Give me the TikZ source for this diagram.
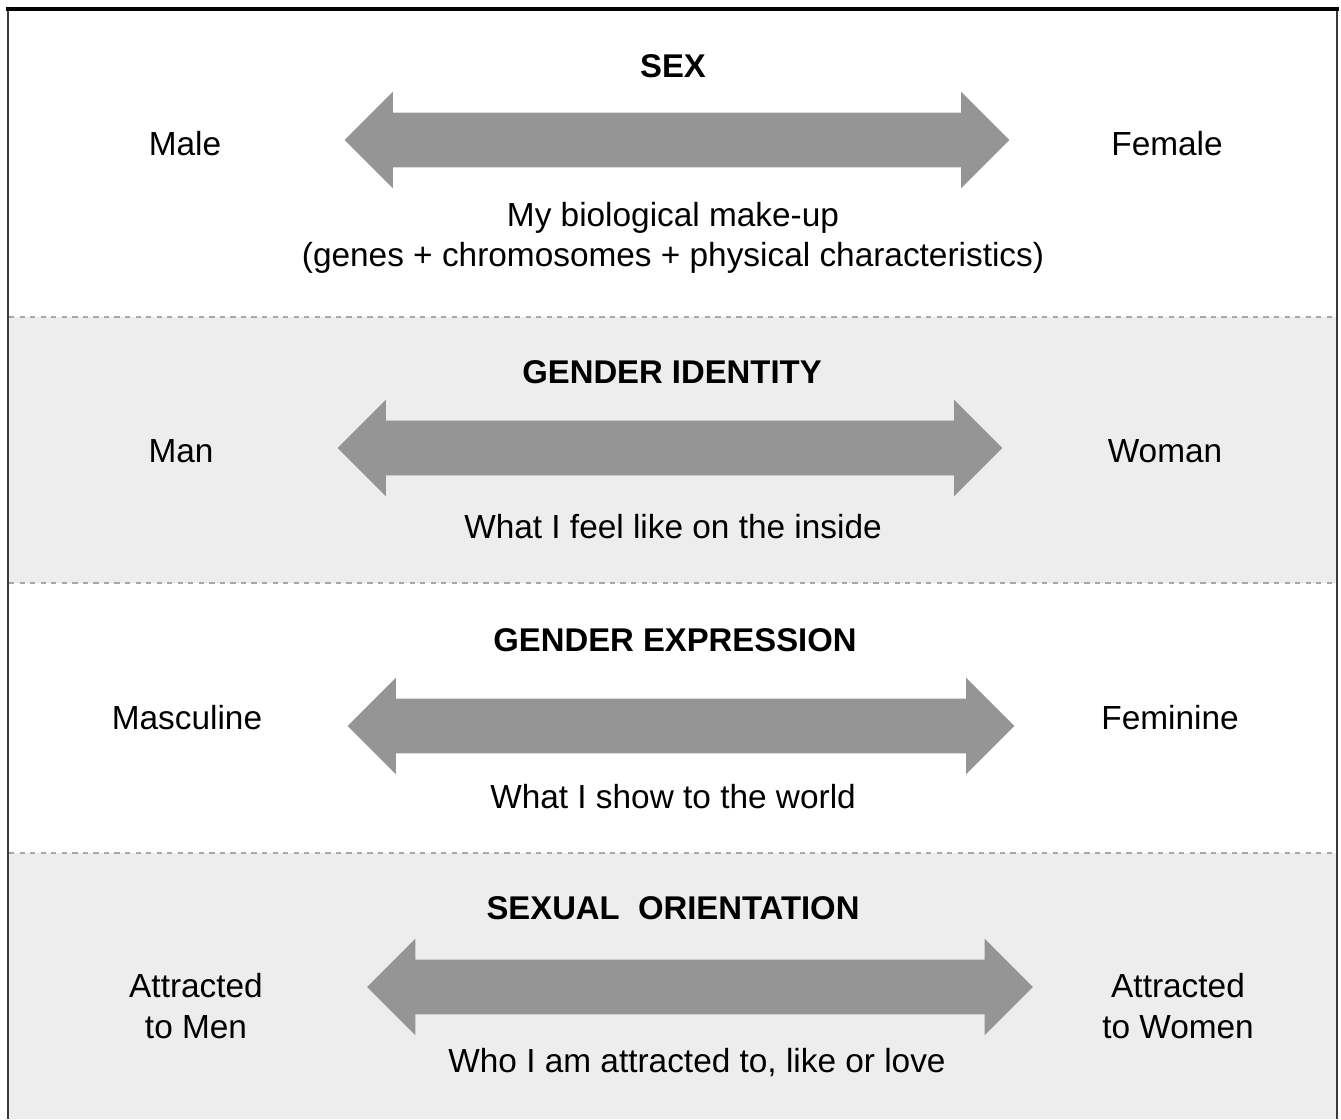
\documentclass[tikz,border=0pt]{standalone}
\usepackage{fontspec}
\setmainfont{Liberation Sans}
\usetikzlibrary{shapes.arrows}
\definecolor{bandgray}{HTML}{EDEDED}
\definecolor{arrowgray}{HTML}{959595}
\definecolor{framegray}{HTML}{3A3A3A}
\tikzset{
	lbl/.style={font=\fontsize{19}{23}\selectfont, align=center, inner sep=0pt},
	ttl/.style={lbl, font=\fontsize{18.7}{23}\selectfont\bfseries},
	bigarrow/.style={double arrow, fill=arrowgray, draw=none, inner sep=0.54cm,
		double arrow tip angle=90, double arrow head extend=0.42cm},
	sep/.style={gray!70, dashed, line width=0.6pt}
}
\begin{document}
\begin{tikzpicture}[x=0.02cm, y=-0.02cm, line join=round]
	\useasboundingbox (0,0) rectangle (1341,1119);
	% bands
	\fill[bandgray] (9,317) rectangle (1337,583);
	\fill[bandgray] (9,853) rectangle (1337,1119);
	\draw[sep] (9,317) -- (1337,317);
	\draw[sep] (9,583) -- (1337,583);
	\draw[sep] (9,853) -- (1337,853);
	% frame
	\draw[framegray, line width=1.5pt] (8,9) -- (8,1119);
	\draw[framegray, line width=1.2pt] (1337,9) -- (1337,1119);
	\draw[black, line width=2.4pt] (6,9) -- (1339,9);

	% sex
	\node[ttl] (sexttl) at (673,66) {SEX};
	\node[lbl] (male) at (185,144) {Male};
	\node[lbl] (female) at (1167,144) {Female};
	\node[bigarrow, minimum height=13.3cm] (sexarr) at (677,140) {};
	\node[lbl] (sexcap) at (673,238) {My biological make-up\\(genes + chromosomes + physical characteristics)};

	% gender identity
	\node[ttl] (idttl) at (672,372) {GENDER IDENTITY};
	\node[lbl] (man) at (181,451) {Man};
	\node[lbl] (woman) at (1165,451) {Woman};
	\node[bigarrow, minimum height=13.3cm] (idarr) at (670,448) {};
	\node[lbl] (idcap) at (673,527) {What I feel like on the inside};

	% gender expression
	\node[ttl] (exttl) at (675,640) {GENDER EXPRESSION};
	\node[lbl] (masc) at (187,718) {Masculine};
	\node[lbl] (fem) at (1170,718) {Feminine};
	\node[bigarrow, minimum height=13.34cm] (exarr) at (681,726) {};
	\node[lbl] (excap) at (673,797) {What I show to the world};

	% sexual orientation
	\node[ttl] (orttl) at (673,908) {SEXUAL\ \ ORIENTATION};
	\node[lbl] (tomen) at (196,1006) {Attracted\\to Men};
	\node[lbl] (towomen) at (1178,1006) {Attracted\\to Women};
	\node[bigarrow, minimum height=13.32cm] (orarr) at (700,987) {};
	\node[lbl] (orcap) at (697,1063) {Who I am attracted to, like or love};
\end{tikzpicture}
\end{document}
